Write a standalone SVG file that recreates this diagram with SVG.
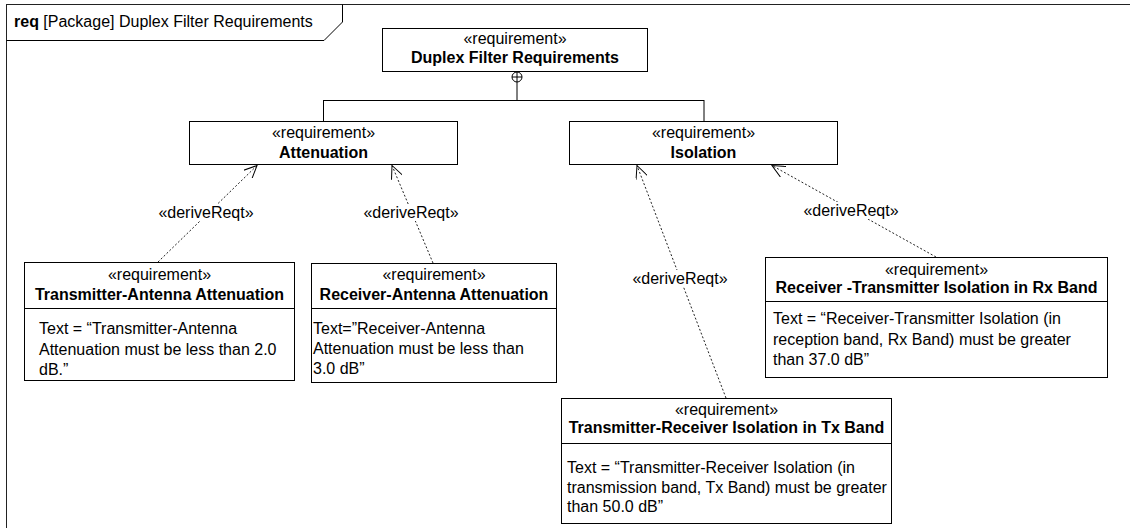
<svg xmlns="http://www.w3.org/2000/svg" width="1130" height="528" viewBox="0 0 1130 528">
<style>
text{font-family:"Liberation Sans",Arial,sans-serif;font-size:16px;fill:#000}
.c{text-anchor:middle}
.b{font-weight:bold}
.box{fill:#fff;stroke:#000;stroke-width:1}
.ln{fill:none;stroke:#000;stroke-width:1}
.dep{fill:none;stroke:#222;stroke-width:1;stroke-dasharray:2 2}
.lbl{fill:#fff}
</style>
<defs>
<marker id="open" viewBox="0 0 14 12" refX="13" refY="6" markerWidth="14" markerHeight="12" markerUnits="userSpaceOnUse" orient="auto">
<path d="M0,0 L13,6 L0,12" fill="none" stroke="#000" stroke-width="1"/>
</marker>
</defs>
<rect width="1130" height="528" fill="#fff"/>
<g id="frame">
<rect x="6.5" y="4.5" width="1140" height="540" fill="none" stroke="#222" stroke-width="1"/>
<path d="M6.5,40.5 L324,40.5 L342.5,22 L342.5,4.5" class="ln"/>
<text x="14" y="27"><tspan class="b">req</tspan> [Package] Duplex Filter Requirements</text>
</g>
<g id="connectors">
<circle cx="517" cy="77" r="5" class="ln"/>
<path d="M512,77 H522 M517,72 V100 M323.5,100.5 H704 M323.5,100 V121 M704,100 V121" class="ln"/>
<line x1="158" y1="262" x2="257" y2="165.5" class="dep" marker-end="url(#open)"/>
<line x1="433" y1="263" x2="392" y2="165.5" class="dep" marker-end="url(#open)"/>
<line x1="726" y1="398" x2="637" y2="165.5" class="dep" marker-end="url(#open)"/>
<line x1="936" y1="257" x2="772" y2="165.5" class="dep" marker-end="url(#open)"/>
<rect x="158" y="204" width="96" height="17" class="lbl"/>
<text x="206" y="218" class="c">«deriveReqt»</text>
<rect x="363" y="204" width="96" height="17" class="lbl"/>
<text x="411" y="218" class="c">«deriveReqt»</text>
<rect x="632" y="270" width="96" height="17" class="lbl"/>
<text x="680" y="284" class="c">«deriveReqt»</text>
<rect x="803" y="202" width="96" height="17" class="lbl"/>
<text x="851" y="216" class="c">«deriveReqt»</text>
</g>
<g id="duplex">
<rect x="382.5" y="28.5" width="265" height="43" class="box"/>
<text x="515" y="44" class="c">«requirement»</text>
<text x="515" y="63" class="c b">Duplex Filter Requirements</text>
</g>
<g id="attenuation">
<rect x="189.5" y="121.5" width="268" height="43" class="box"/>
<text x="323.5" y="138" class="c">«requirement»</text>
<text x="323.5" y="158" class="c b">Attenuation</text>
</g>
<g id="isolation">
<rect x="569.5" y="121.5" width="268" height="43" class="box"/>
<text x="703.5" y="138" class="c">«requirement»</text>
<text x="703.5" y="158" class="c b">Isolation</text>
</g>
<g id="tx-antenna">
<rect x="24.5" y="262.5" width="270" height="118" class="box"/>
<line x1="24.5" y1="308.5" x2="294.5" y2="308.5" class="ln"/>
<text x="159.5" y="280" class="c">«requirement»</text>
<text x="159.5" y="300" class="c b">Transmitter-Antenna Attenuation</text>
<text x="39" y="334">Text = “Transmitter-Antenna</text>
<text x="39" y="355">Attenuation must be less than 2.0</text>
<text x="39" y="375">dB.”</text>
</g>
<g id="rx-antenna">
<rect x="311.5" y="263.5" width="245" height="119" class="box"/>
<line x1="311.5" y1="308.5" x2="556.5" y2="308.5" class="ln"/>
<text x="434" y="280" class="c">«requirement»</text>
<text x="434" y="300" class="c b">Receiver-Antenna Attenuation</text>
<text x="313" y="334">Text=”Receiver-Antenna</text>
<text x="313" y="354">Attenuation must be less than</text>
<text x="313" y="374">3.0 dB”</text>
</g>
<g id="rx-band">
<rect x="765.5" y="257.5" width="342" height="120" class="box"/>
<line x1="765.5" y1="301.5" x2="1107.5" y2="301.5" class="ln"/>
<text x="936.5" y="275" class="c">«requirement»</text>
<text x="936.5" y="293" class="c b">Receiver -Transmitter Isolation in Rx Band</text>
<text x="773" y="324">Text = “Receiver-Transmitter Isolation (in</text>
<text x="773" y="345">reception band, Rx Band) must be greater</text>
<text x="773" y="365">than 37.0 dB”</text>
</g>
<g id="tx-band">
<rect x="561.5" y="398.5" width="330" height="125" class="box"/>
<line x1="561.5" y1="443.5" x2="891.5" y2="443.5" class="ln"/>
<text x="726.5" y="415" class="c">«requirement»</text>
<text x="726.5" y="433" class="c b">Transmitter-Receiver Isolation in Tx Band</text>
<text x="567" y="473">Text = “Transmitter-Receiver Isolation (in</text>
<text x="567" y="493">transmission band, Tx Band) must be greater</text>
<text x="567" y="512">than 50.0 dB”</text>
</g>
</svg>
